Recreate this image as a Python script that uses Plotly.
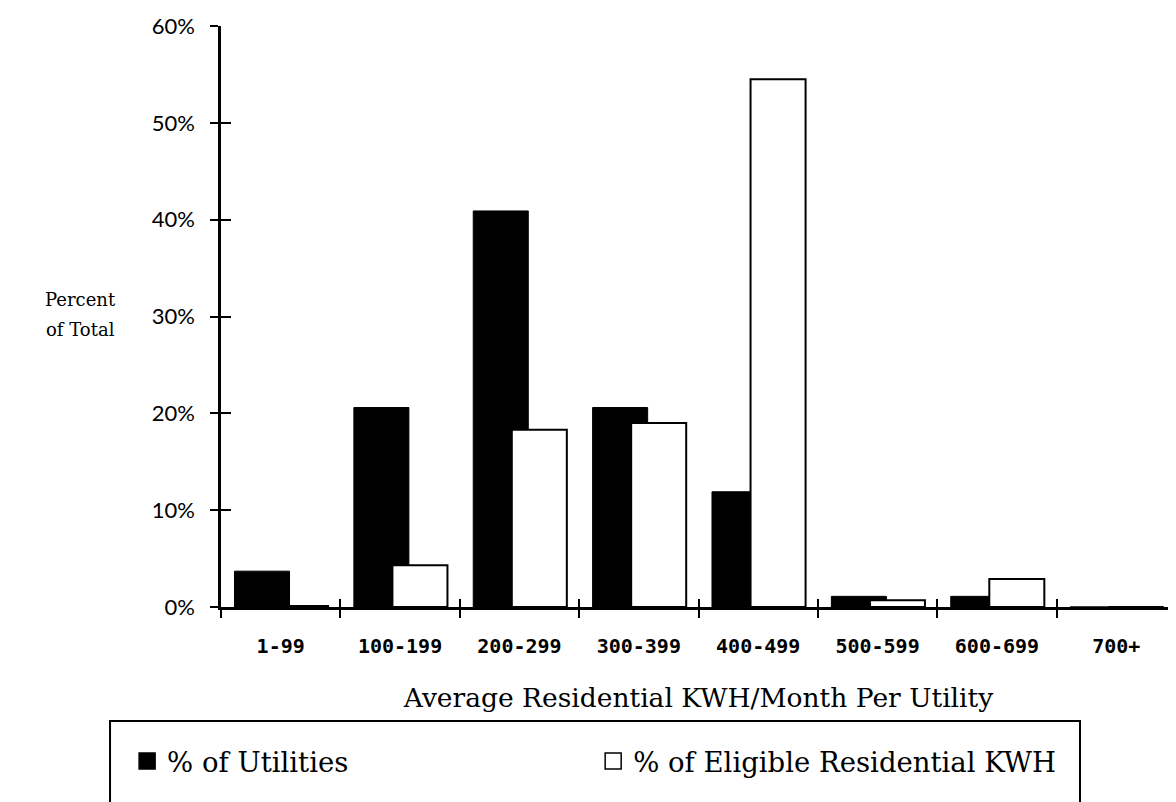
import plotly.graph_objects as go

categories = ["1-99", "100-199", "200-299", "300-399", "400-499", "500-599", "600-699", "700+"]
pct_utilities = [3.7, 20.6, 40.9, 20.6, 11.9, 1.1, 1.1, 0.0]
pct_eligible_kwh = [0.1, 4.3, 18.3, 19.0, 54.5, 0.7, 2.9, 0.0]
series_names = ["% of Utilities", "% of Eligible Residential KWH"]
y_ticks = [0, 10, 20, 30, 40, 50, 60]
y_tick_labels = [f"{v}%" for v in y_ticks]

SERIF = "DejaVu Serif, Liberation Serif, serif"
SANS = "Lato, Noto Sans, sans-serif"
MONO = "DejaVu Sans Mono, Liberation Mono, monospace"

fig = go.Figure()
fig.add_trace(go.Bar(
    x=categories, y=pct_utilities, name=series_names[0], showlegend=False,
    width=0.461, offset=-0.387,
    marker=dict(color="black", line=dict(color="black", width=1)),
))
fig.add_trace(go.Bar(
    x=categories, y=pct_eligible_kwh, name=series_names[1], showlegend=False,
    width=0.461, offset=-0.064,
    marker=dict(color="white", line=dict(color="black", width=2)),
))
# legend entries (square swatches) on the overlay axes
fig.add_trace(go.Scatter(x=[None], y=[None], xaxis="x2", yaxis="y2", mode="markers",
                         name=series_names[0], hoverinfo="skip", legend="legend",
                         marker=dict(symbol="square", size=16, color="black",
                                     line=dict(color="black", width=1.5))))
fig.add_trace(go.Scatter(x=[None], y=[None], xaxis="x2", yaxis="y2", mode="markers",
                         name=series_names[1], hoverinfo="skip", legend="legend2",
                         marker=dict(symbol="square", size=16, color="white",
                                     line=dict(color="black", width=1.5))))

legend_style = dict(
    orientation="h", xanchor="left", y=-0.2651, yanchor="middle",
    itemsizing="trace",
    font=dict(family=SERIF, size=27.5, color="black"),
    bgcolor="rgba(0,0,0,0)",
)

n = len(categories)
fig.update_layout(
    width=1168, height=794,
    margin=dict(l=213, r=0, t=18, b=195),
    paper_bgcolor="white", plot_bgcolor="white",
    barmode="overlay",
    showlegend=True,
    legend=dict(x=-0.0983, **legend_style),
    legend2=dict(x=0.3897, **legend_style),
    xaxis=dict(
        type="category", categoryorder="array", categoryarray=categories,
        range=[-0.5, n - 0.5], showgrid=False, zeroline=False,
        showline=True, linecolor="black", linewidth=2.5,
        ticks="outside", ticklen=8, tickwidth=2, tickcolor="black",
        tickson="boundaries", ticklabelstandoff=19,
        tickfont=dict(family=MONO, size=20, color="black", weight="bold"),
        title=dict(text="Average Residential KWH/Month Per Utility", standoff=32,
                   font=dict(family=SERIF, size=26.5, color="black")),
    ),
    yaxis=dict(
        range=[0, 60], tickmode="array", tickvals=y_ticks, ticktext=y_tick_labels,
        showgrid=False, zeroline=False,
        showline=True, linecolor="black", linewidth=2.5,
        ticks="outside", ticklen=8, tickwidth=2, tickcolor="black",
        ticklabelstandoff=11,
        tickfont=dict(family=SANS, size=22, color="black"),
    ),
    xaxis2=dict(overlaying="x", anchor="y2", range=[-0.5, n - 0.5],
                tickmode="array", tickvals=[i + 0.5 for i in range(n)],
                ticks="inside", ticklen=8, tickwidth=2, tickcolor="black",
                showticklabels=False, showgrid=False, zeroline=False, showline=False),
    yaxis2=dict(overlaying="y", anchor="x2", range=[0, 60],
                tickmode="array", tickvals=y_ticks,
                ticks="inside", ticklen=10, tickwidth=2, tickcolor="black",
                showticklabels=False, showgrid=False, zeroline=False, showline=False),
    annotations=[
        dict(text="Percent", xref="paper", yref="paper", x=-0.1476, y=0.5284,
             xanchor="center", yanchor="middle", showarrow=False,
             font=dict(family=SERIF, size=18, color="black")),
        dict(text="of Total", xref="paper", yref="paper", x=-0.1476, y=0.4768,
             xanchor="center", yanchor="middle", showarrow=False,
             font=dict(family=SERIF, size=18, color="black")),
    ],
    shapes=[dict(
        type="rect", xref="paper", yref="paper",
        x0=-0.1162, x1=0.8995, y0=-0.6, y1=-0.1962,
        line=dict(color="black", width=2), fillcolor="rgba(0,0,0,0)", layer="above",
    )],
)

fig.write_html("out.html")
